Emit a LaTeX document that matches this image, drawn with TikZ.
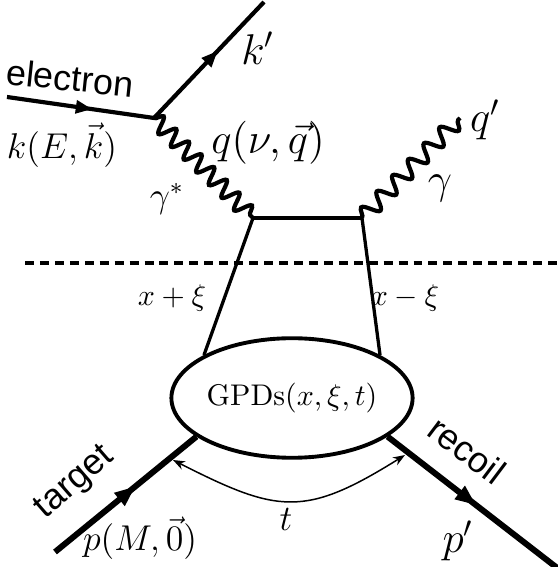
\documentclass[tikz,border=0pt]{standalone}
\usepackage{fontspec}
\newfontfamily\sanslabel{Liberation Sans}
\usetikzlibrary{arrows.meta,decorations.pathmorphing,decorations.markings,shapes.geometric}

\begin{document}
\begin{tikzpicture}[x=1.176mm,y=1.176mm,
    fermion/.style={line width=1.4pt, postaction={decorate},
      decoration={markings, mark=at position #1 with {\arrow{Triangle[length=5.5pt,width=4.2pt]}}}},
    fermion/.default=0.58,
    proton/.style={line width=2pt, postaction={decorate},
      decoration={markings, mark=at position #1 with {\arrow{Triangle[length=7pt,width=5.2pt]}}}},
    proton/.default=0.57,
    photon/.style={line width=1.4pt, decorate,
      decoration={snake, amplitude=2.7pt, segment length=#1}},
    photon/.default=6pt,
    quark/.style={line width=1.1pt},
    cut/.style={line width=1.3pt, dash pattern=on 3pt off 2pt},
    blob/.style={ellipse, draw, line width=1.3pt, inner sep=0pt,
      minimum width=76pt, minimum height=40pt},
    elabel/.style={font=\large\sanslabel, inner sep=1pt}]
  \useasboundingbox (0,0) rectangle (55.7,56.7);
  % vertices and free ends
  \coordinate (ein) at (0.7,47.0);
  \coordinate (v1) at (15.4,44.9);
  \coordinate (kout) at (26.4,56.5);
  \coordinate (v2) at (25.3,34.9);
  \coordinate (v3) at (36.2,34.9);
  \coordinate (qout) at (46.0,44.9);
  \coordinate (cutl) at (2.5,30.4);
  \coordinate (cutr) at (55.7,30.4);
  \coordinate (pin) at (5.5,1.5);
  \coordinate (pout) at (56.5,-0.7);
  \coordinate (tl) at (17.3,10.7);
  \coordinate (tr) at (40.5,11.2);
  \node[blob] (gpd) at (29.2,16.9) {GPDs$(x,\xi,t)$};
  % lepton side
  \draw[fermion] (ein) -- (v1);
  \draw[fermion] (v1) -- (kout);
  \draw[photon] (v1) -- (v2);
  \draw[quark] (v2) -- (v3);
  \draw[photon=7.5pt] (v3) -- (qout);
  % handbag
  \draw[quark] (v2) -- (gpd.154);
  \draw[quark] (v3) -- (gpd.26);
  \draw[cut] (cutl) -- (cutr);
  % hadron side
  \draw[proton] (pin) -- (gpd.202);
  \draw[proton=0.5] (gpd.338) -- (pout);
  \draw[{Stealth[length=4pt]}-{Stealth[length=4pt]}, line width=0.5pt]
    (tl) to[out=-27, in=-148, looseness=1.3] (tr);
  % labels
  \node[elabel, rotate=-6] (lelec) at (7.0,48.9) {electron};
  \node[font=\large, inner sep=1pt] (lk) at (6.2,42.2) {$k(E,\vec{k})$};
  \node[font=\Large, inner sep=1pt] (lkp) at (25.8,51.9) {$k'$};
  \node[font=\Large, inner sep=1pt] (lq) at (26.8,42.4) {$q(\nu,\vec{q})$};
  \node[font=\large, inner sep=1pt] (lgs) at (16.7,36.8) {$\gamma^*$};
  \node[font=\Large, inner sep=1pt] (lqp) at (48.5,44.7) {$q'$};
  \node[font=\Large, inner sep=1pt] (lg) at (44.0,37.9) {$\gamma$};
  \node[inner sep=1pt] (lxp) at (17.2,26.9) {$x+\xi$};
  \node[inner sep=1pt] (lxm) at (40.5,26.9) {$x-\xi$};
  \node[elabel, rotate=41] (ltarget) at (7.5,8.4) {target};
  \node[font=\large, inner sep=1pt] (lp) at (14.0,2.9) {$p(M,\vec{0})$};
  \node[font=\large, inner sep=1pt] (lt) at (28.6,4.8) {$t$};
  \node[elabel, rotate=-37] (lrecoil) at (46.7,11.7) {recoil};
  \node[font=\Large, inner sep=1pt] (lpp) at (45.8,2.6) {$p'$};
\end{tikzpicture}
\end{document}
